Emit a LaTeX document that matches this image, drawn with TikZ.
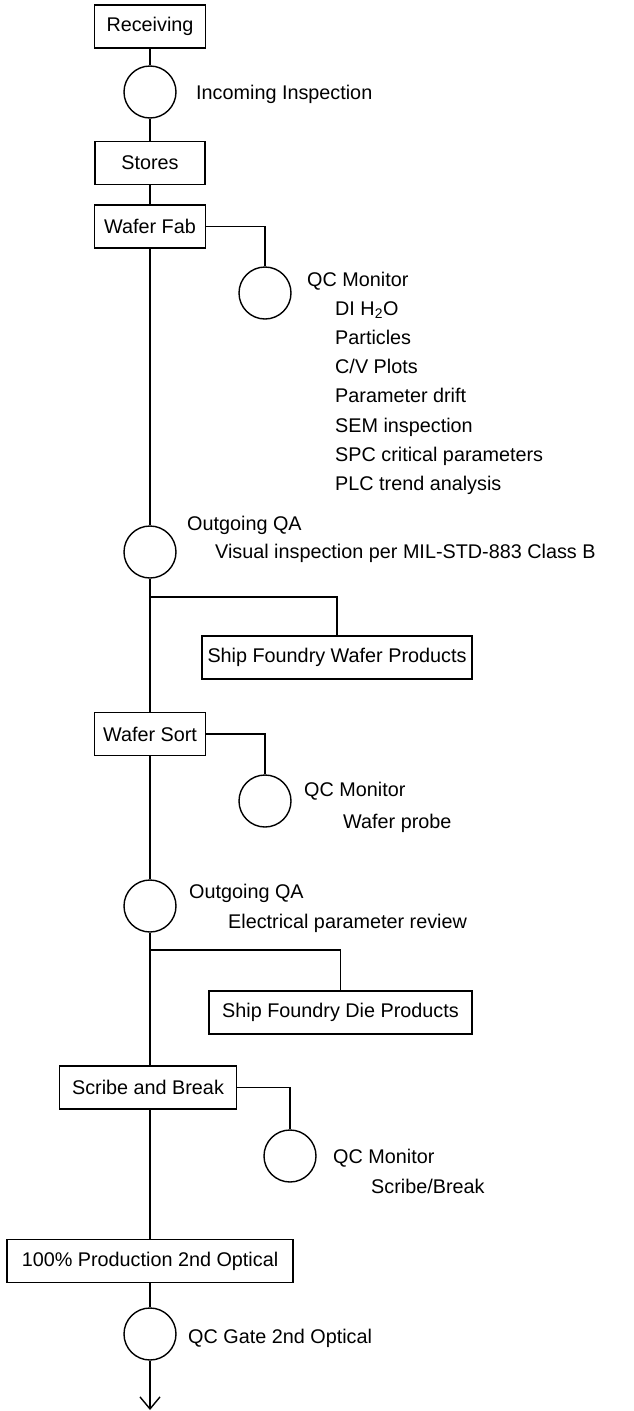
\documentclass[tikz,border=0pt]{standalone}
\usepackage{fontspec}
\setmainfont{Liberation Sans}
\usetikzlibrary{arrows.meta}
\begin{document}
\begin{tikzpicture}[x=1pt,y=-1pt,
  every node/.style={font=\fontsize{19.8}{24}\selectfont},
  proc/.style={draw, rectangle, minimum height=43pt, inner sep=0pt, line width=1.4pt},
  insp/.style={draw, circle, minimum size=52pt, inner sep=0pt, line width=1.4pt},
  lbl/.style={anchor=base west, inner sep=0pt},
  conn/.style={line width=1.4pt}]
\useasboundingbox (0,0) rectangle (634,1411);

% main flow
\node[proc, minimum width=111pt] (recv) at (150,26.5) {Receiving};
\node[insp] (inc) at (150,92) {};
\node[proc, minimum width=110pt] (stores) at (150,163) {Stores};
\node[proc, minimum width=111pt] (fab) at (150,226.5) {Wafer Fab};
\node[insp] (qc1) at (265,293) {};
\node[insp] (oqa1) at (150,552) {};
\node[proc, minimum width=270pt] (shipw) at (337,657.5) {Ship Foundry Wafer Products};
\node[proc, minimum width=111pt] (sort) at (150,734) {Wafer Sort};
\node[insp] (qc2) at (265,801) {};
\node[insp] (oqa2) at (150,906) {};
\node[proc, minimum width=263pt] (shipd) at (340.5,1012.5) {Ship Foundry Die Products};
\node[proc, minimum width=177pt] (scribe) at (148,1087.5) {Scribe and Break};
\node[insp] (qc3) at (290,1156) {};
\node[proc, minimum width=286pt] (prod) at (150,1261) {100\% Production 2nd Optical};
\node[insp] (gate) at (150,1334) {};
\coordinate (b1) at (150,597);
\coordinate (b2) at (150,950);
\coordinate (endpt) at (150,1410);

% labels
\node[lbl] (t1) at (196,99) {Incoming Inspection};
\node[lbl] (t2) at (307,286) {QC Monitor};
\node[lbl] (t3) at (335,315) {DI H\textsubscript{2}O};
\node[lbl] (t4) at (335,344) {Particles};
\node[lbl] (t5) at (335,373) {C/V Plots};
\node[lbl] (t6) at (335,402) {Parameter drift};
\node[lbl] (t7) at (335,432) {SEM inspection};
\node[lbl] (t8) at (335,461) {SPC critical parameters};
\node[lbl] (t9) at (335,490) {PLC trend analysis};
\node[lbl] (t10) at (187,530) {Outgoing QA};
\node[lbl] (t11) at (215,558) {Visual inspection per MIL-STD-883 Class B};
\node[lbl] (t12) at (304,796) {QC Monitor};
\node[lbl] (t13) at (343,828) {Wafer probe};
\node[lbl] (t14) at (189,898) {Outgoing QA};
\node[lbl] (t15) at (228,928) {Electrical parameter review};
\node[lbl] (t16) at (333,1163) {QC Monitor};
\node[lbl] (t17) at (371,1193) {Scribe/Break};
\node[lbl] (t18) at (188,1343) {QC Gate 2nd Optical};

% connectors
\draw[conn] (recv) -- (inc);
\draw[conn] (inc) -- (stores);
\draw[conn] (stores) -- (fab);
\draw[conn] (fab) -- (oqa1);
\draw[conn] (fab.east) -| (qc1.north);
\draw[conn] (oqa1) -- (sort);
\draw[conn] (b1) -| (shipw.north);
\draw[conn] (sort) -- (oqa2);
\draw[conn] (sort.east) -| (qc2.north);
\draw[conn] (oqa2) -- (oqa2.south |- scribe.north);
\draw[conn] (b2) -| (shipd.north);
\draw[conn] (scribe.south -| prod.north) -- (prod);
\draw[conn] (scribe.east) -| (qc3.north);
\draw[conn] (prod) -- (gate);
\draw[conn, -{Straight Barb[length=12pt,width=20pt]}] (gate) -- (endpt);
\end{tikzpicture}
\end{document}
